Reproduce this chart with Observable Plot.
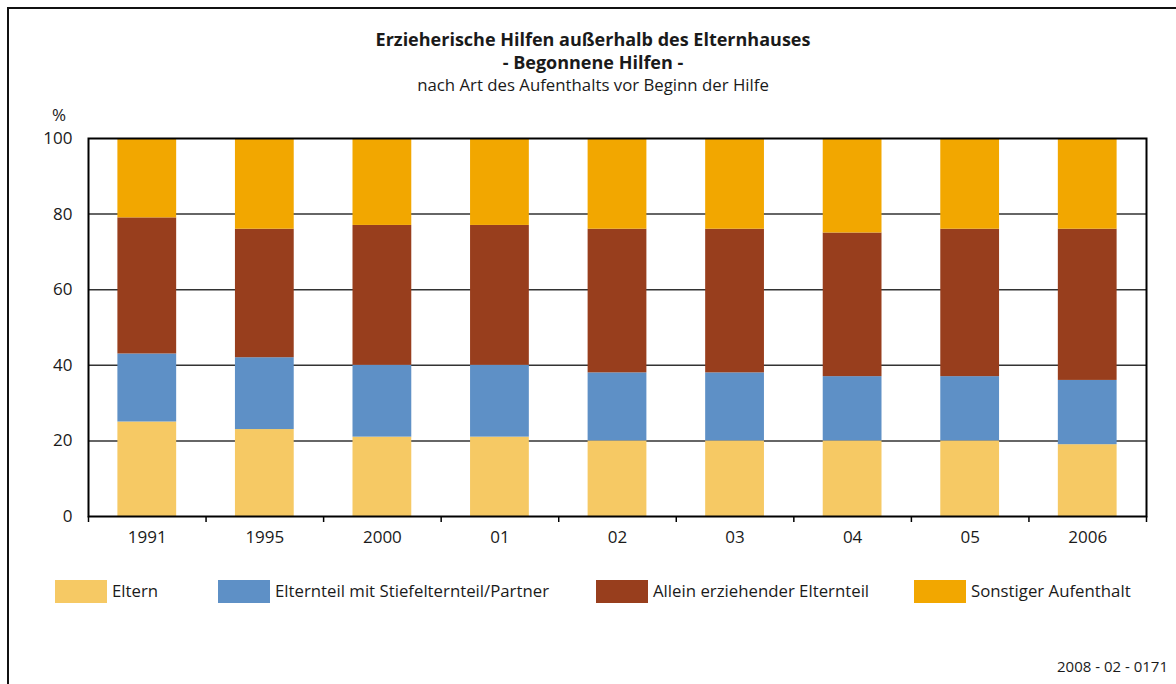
<!DOCTYPE html>
<html>
<head>
<meta charset="utf-8">
<script src="https://cdn.jsdelivr.net/npm/d3@7"></script>
<script src="https://cdn.jsdelivr.net/npm/@observablehq/plot@0.6"></script>
<style>
  html, body { margin: 0; padding: 0; background: #fff; }
  body { font-family: "Open Sans", sans-serif; color: #1a1a1a; }
  #wrap { position: relative; width: 1176px; height: 684px; overflow: hidden; }
  #border { position: absolute; left: 7px; top: 7px; width: 1200px; height: 700px; border-left: 2px solid #111; border-top: 2px solid #111; box-sizing: border-box; }
  .t { position: absolute; left: 0; width: 1186px; text-align: center; white-space: nowrap; line-height: 1; }
  #t1 { top: 30px; font-size: 18px; font-weight: 700; }
  #t2 { top: 53px; font-size: 18px; font-weight: 700; }
  #t3 { top: 77px; font-size: 16.8px; }
  #pct { position: absolute; left: 52px; top: 106px; font-size: 17px; line-height: 1; }
  #chart { position: absolute; left: 0; top: 100px; }
  .leg { position: absolute; top: 580px; display: flex; align-items: center; font-size: 16.8px; white-space: nowrap; line-height: 1; }
  .sw { width: 52px; height: 23px; margin-right: 5px; }
  #cap { position: absolute; right: 8px; top: 659px; font-size: 15px; line-height: 1; }
</style>
</head>
<body>
<div id="wrap">
  <div id="border"></div>
  <div class="t" id="t1">Erzieherische Hilfen außerhalb des Elternhauses</div>
  <div class="t" id="t2">- Begonnene Hilfen -</div>
  <div class="t" id="t3">nach Art des Aufenthalts vor Beginn der Hilfe</div>
  <div id="pct">%</div>
  <div id="chart"></div>
  <div id="legend"></div>
  <div id="cap">2008 - 02 - 0171</div>
</div>
<script>
const years = ["1991", "1995", "2000", "01", "02", "03", "04", "05", "2006"];
const series = ["Eltern", "Elternteil mit Stiefelternteil/Partner", "Allein erziehender Elternteil", "Sonstiger Aufenthalt"];
const colors = ["#F6C964", "#5E90C6", "#983E1D", "#F2A700"];
const eltern    = [25, 23, 21, 21, 20, 20, 20, 20, 19];
const stiefel   = [18, 19, 19, 19, 18, 18, 17, 17, 17];
const allein    = [36, 34, 37, 37, 38, 38, 38, 39, 40];
const sonstiger = [21, 24, 23, 23, 24, 24, 25, 24, 24];
const yTicks = [0, 20, 40, 60, 80, 100];

const valuesBySeries = [eltern, stiefel, allein, sonstiger];
const data = [];
series.forEach((s, si) => years.forEach((y, yi) => data.push({year: y, series: s, order: si, value: valuesBySeries[si][yi]})));

const W = 1176, H = 460;
const mL = 88, mR = 30, mT = 38, mB = 44;
const step = (W - mL - mR) / years.length;

const plot = Plot.plot({
  width: W, height: H,
  marginLeft: mL, marginRight: mR, marginTop: mT, marginBottom: mB,
  style: {fontFamily: "Open Sans, sans-serif", fontSize: "17px", color: "#1a1a1a", background: "transparent"},
  x: {domain: years, paddingInner: 0.5, paddingOuter: 0.25, round: false, label: null},
  y: {domain: [0, 100], label: null},
  color: {domain: series, range: colors},
  marks: [
    Plot.gridY({ticks: [20, 40, 60, 80], stroke: "#333", strokeOpacity: 1, strokeWidth: 1.5}),
    Plot.barY(data, {x: "year", y: "value", fill: "series", order: "order"}),
    Plot.frame({stroke: "#000", strokeWidth: 2}),
    Plot.axisY({ticks: yTicks, tickSize: 0, tickPadding: 16, fontSize: 17, label: null}),
    Plot.axisX({ticks: years, tickSize: 0, tickPadding: 14, fontSize: 17, label: null}),
    Plot.axisX({ticks: years, tickSize: 6, text: null, dx: -step / 2, stroke: "#000", strokeWidth: 1.5, label: null}),
    Plot.axisX({ticks: [years[years.length - 1]], tickSize: 6, text: null, dx: step / 2, stroke: "#000", strokeWidth: 1.5, label: null})
  ]
});
document.getElementById("chart").appendChild(plot);

const legX = [55, 218, 596, 914];
const legend = document.getElementById("legend");
series.forEach((s, i) => {
  const d = document.createElement("div");
  d.className = "leg";
  d.style.left = legX[i] + "px";
  d.innerHTML = `<div class="sw" style="background:${colors[i]}"></div><span>${s}</span>`;
  legend.appendChild(d);
});
</script>
</body>
</html>
